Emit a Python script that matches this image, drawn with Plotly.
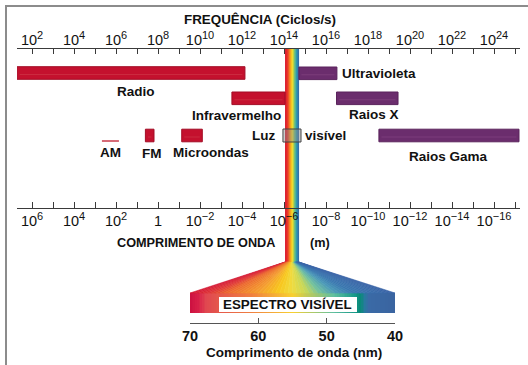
import plotly.graph_objects as go
from plotly.colors import sample_colorscale

W, H = 528, 365
FONT = "Liberation Sans, Arial, Helvetica, sans-serif"
INK = "#111111"
AXIS = "#3a3a3a"

# ---------------- data ----------------
FREQ_TICK_EXP = list(range(2, 26))            # decade ticks, log10(Hz)
FREQ_LABEL_EXP = list(range(2, 25, 2))         # labelled decades (top)
WAVE_LABEL_EXP = [6, 4, 2, 0, -2, -4, -6, -8, -10, -12, -14, -16]  # labels (bottom, m)

BAND_NAMES = ["Radio", "Infravermelho", "Ultravioleta", "Raios X", "Raios Gama", "FM", "Microondas"]
BAND_LO = [1.29, 11.52, 14.71, 16.50, 18.52, 7.40, 9.13]     # log10(Hz)
BAND_HI = [12.14, 14.05, 16.52, 19.43, 25.19, 7.81, 10.11]
AM_RANGE = [5.33, 6.14]
VISIBLE_RANGE = [14.05, 14.71]
VIS_BOX_RANGE = [13.95, 14.81]
NM_TICKS = [70, 60, 50, 40]

# ---------------- layout constants ----------------
PX_TICK0 = 32      # pixel x of the first (10^2) tick
PX_DECADE = 21     # pixels per decade
AX_PX = (17, 520)
TOP_AX_Y, BOT_AX_Y = 48, 208
TOP_LABEL_Y = 47.5
NM_PX = (190, 395)
NM_AX_Y = 323
TICK_FS = 14.5
SUP_FS = 11

RED, RED_EDGE = "#c4112e", "#a30d26"
PURPLE, PURPLE_EDGE = "#6b2d6d", "#5a235c"
BAND_COLOR = [RED, RED, PURPLE, PURPLE, PURPLE, RED, RED]
BAND_EDGE = [RED_EDGE, RED_EDGE, PURPLE_EDGE, PURPLE_EDGE, PURPLE_EDGE, RED_EDGE, RED_EDGE]
BAND_INNER = ["#d2404e", "#d2404e", "#8a4a88", "#8a4a88", "#8a4a88", "#d2404e", "#d2404e"]
BAND_ROW = [73, 98.3, 73.3, 98.3, 135.5, 135.5, 135.5]
BAR_THICK = 12.6
AM_ROW = 141

STRIP_SCALE = [[0.00, "#d8102c"], [0.18, "#e83428"], [0.30, "#f07a24"], [0.45, "#f8c01c"],
               [0.52, "#f5dc30"], [0.62, "#b4d04a"], [0.72, "#58b890"], [0.82, "#2c98b0"],
               [1.00, "#3466a8"]]
FAN_SCALE = [[0.00, "#d41838"], [0.10, "#e03a3a"], [0.18, "#ec6a30"], [0.32, "#f49a30"],
             [0.43, "#f8c820"], [0.50, "#f0dc40"], [0.57, "#c8d858"], [0.64, "#70c0a0"],
             [0.72, "#4a98b8"], [0.80, "#3a78b0"], [1.00, "#3a64a6"]]
BAR_SCALE = [[0.00, "#cc1040"], [0.04, "#d82048"], [0.08, "#e04850"], [0.30, "#f08040"],
             [0.50, "#f8d030"], [0.70, "#60c0a0"], [0.80, "#1a9a8a"], [0.83, "#0a8a7a"],
             [0.855, "#2a78a0"], [0.87, "#3a6aa6"], [1.00, "#3a64a0"]]


def lf(px):
    return 2 + (px - PX_TICK0) / PX_DECADE


def pxf(v):
    return PX_TICK0 + (v - 2) * PX_DECADE


def nm(px):
    return NM_TICKS[0] + (px - NM_PX[0]) / (NM_PX[1] - NM_PX[0]) * (NM_TICKS[-1] - NM_TICKS[0])


def sup(e):
    if e == 0:
        return "1"
    return "10<sup><span style='font-size:%spx'>%s</span></sup>" % (SUP_FS, str(e).replace("-", "\u2212"))


top_text = [sup(e) if e in FREQ_LABEL_EXP else "" for e in FREQ_TICK_EXP]
wave_map = dict(zip(FREQ_LABEL_EXP, WAVE_LABEL_EXP))
bot_text = [sup(wave_map[e]) if e in wave_map else "" for e in FREQ_TICK_EXP]

fig = go.Figure()

# vertical visible strip
NS = 40
sx = [VISIBLE_RANGE[0] + (VISIBLE_RANGE[1] - VISIBLE_RANGE[0]) * i / NS for i in range(NS + 1)]
fig.add_trace(go.Heatmap(x=sx, y=[TOP_AX_Y, 262], z=[[(i + 0.5) / NS for i in range(NS)]],
                         colorscale=STRIP_SCALE, zmin=0, zmax=1, showscale=False,
                         hoverinfo="skip", xaxis="x", yaxis="y"))

# band bars
fig.add_trace(go.Bar(orientation="h", y=BAND_ROW, base=BAND_LO,
                     x=[h - l for l, h in zip(BAND_LO, BAND_HI)],
                     width=[BAR_THICK] * len(BAND_LO),
                     marker=dict(color=BAND_COLOR, line=dict(color=BAND_EDGE, width=1)),
                     hoverinfo="skip", xaxis="x", yaxis="y"))
# faint inner highlight line of each bar
for lo, hi, row, col in zip(BAND_LO, BAND_HI, BAND_ROW, BAND_INNER):
    pad = 0.12
    fig.add_trace(go.Scatter(x=[lo + pad, hi - pad], y=[row + 1.5, row + 1.5], mode="lines",
                             line=dict(color=col, width=1), opacity=0.55, hoverinfo="skip",
                             xaxis="x", yaxis="y"))
# AM line
fig.add_trace(go.Scatter(x=AM_RANGE, y=[AM_ROW, AM_ROW], mode="lines",
                         line=dict(color="#c83a4a", width=1.5), hoverinfo="skip",
                         xaxis="x", yaxis="y"))

# fan (in nm axis coords)
NF = 48
ta, tb = nm(pxf(VISIBLE_RANGE[0])), nm(pxf(VISIBLE_RANGE[1]))
ba, bb = NM_TICKS[0], NM_TICKS[-1]
for i in range(NF):
    t0, t1 = i / NF, (i + 1) / NF
    c = sample_colorscale(FAN_SCALE, [(t0 + t1) / 2])[0]
    xs = [ta + (tb - ta) * t0, ta + (tb - ta) * t1, ba + (bb - ba) * t1, ba + (bb - ba) * t0]
    ys = [262, 262, 293, 293]
    fig.add_trace(go.Scatter(x=xs + [xs[0]], y=ys + [ys[0]], mode="lines", fill="toself",
                             fillcolor=c, line=dict(color=c, width=0.6), hoverinfo="skip",
                             xaxis="x3", yaxis="y"))

# visible spectrum bar
NB = 120
bxe = [ba + (bb - ba) * i / NB for i in range(NB + 1)]
fig.add_trace(go.Heatmap(x=bxe, y=[293, 313], z=[[(i + 0.5) / NB for i in range(NB)]],
                         colorscale=BAR_SCALE, zmin=0, zmax=1, showscale=False,
                         hoverinfo="skip", xaxis="x3", yaxis="y"))

# dummy traces so the top axes exist
fig.add_trace(go.Scatter(x=[], y=[], xaxis="x2", yaxis="y", showlegend=False))
fig.add_trace(go.Scatter(x=[], y=[], xaxis="x4", yaxis="y", showlegend=False))

shapes = [
    dict(type="rect", xref="x", yref="y", x0=VIS_BOX_RANGE[0], x1=VIS_BOX_RANGE[1], y0=129, y1=142,
         line=dict(color="#444444", width=1), fillcolor="rgba(140,140,140,0.45)"),
    dict(type="rect", xref="paper", yref="y", x0=219 / W, x1=357 / W, y0=297, y1=312,
         line=dict(width=0), fillcolor="white"),
    dict(type="line", xref="paper", yref="paper", x0=6 / W, x1=6 / W, y0=0, y1=1 - 5 / H,
         line=dict(color="#8c8c8c", width=2)),
    dict(type="line", xref="paper", yref="paper", x0=5 / W, x1=1, y0=1 - 6 / H, y1=1 - 6 / H,
         line=dict(color="#8c8c8c", width=2)),
]

LABELS = [
    ("FREQUÊNCIA (Ciclos/s)", 259.5, 19.5, 13.4),
    ("Radio", 135.5, 91, 13.5),
    ("Infravermelho", 236, 115.5, 13.5),
    ("Ultravioleta", 379, 73, 13.5),
    ("Raios X", 374, 114.5, 13.5),
    ("Luz", 263.5, 135.5, 13.5),
    ("visível", 325.5, 135.5, 13.5),
    ("Raios Gama", 448, 156.7, 13.5),
    ("AM", 110.5, 152, 13.5),
    ("FM", 151.5, 153.5, 13.5),
    ("Microondas", 210.5, 152, 13.5),
    ("COMPRIMENTO DE ONDA", 196, 243, 12.7),
    ("(m)", 319.5, 243, 12.7),
    ("ESPECTRO VISÍVEL", 287.5, 304.5, 13.4),
    ("Comprimento de onda (nm)", 294, 352, 13.5),
]
annotations = [dict(text="<b>%s</b>" % t, x=px / W, y=py, xref="paper", yref="y",
                    showarrow=False, xanchor="center", yanchor="middle",
                    font=dict(family=FONT, size=s, color=INK))
               for t, px, py, s in LABELS]

xr = [lf(AX_PX[0]), lf(AX_PX[1])]
dom = [AX_PX[0] / W, AX_PX[1] / W]
common = dict(linecolor=AXIS, linewidth=1, tickcolor=AXIS,
              tickwidth=1, showgrid=False, zeroline=False, tickmode="array",
              tickvals=FREQ_TICK_EXP, tickfont=dict(family=FONT, size=TICK_FS, color=INK),
              fixedrange=True, range=xr, automargin=False)

fig.update_layout(
    width=W, height=H, autosize=False,
    margin=dict(l=0, r=0, t=0, b=0, pad=0, autoexpand=False),
    paper_bgcolor="white", plot_bgcolor="rgba(0,0,0,0)",
    showlegend=False, barmode="overlay",
    xaxis=dict(domain=dom, anchor="free", position=1 - BOT_AX_Y / H, side="bottom",
               showline=True, ticks="inside", ticklen=6, ticktext=bot_text, **common),
    xaxis2=dict(overlaying="x", anchor="free", position=1 - TOP_AX_Y / H, side="top",
                showline=True, ticks="inside", ticklen=5, showticklabels=False,
                ticktext=top_text, **common),
    xaxis4=dict(overlaying="x", anchor="free", position=1 - TOP_LABEL_Y / H, side="top",
                showline=False, ticks="", ticktext=top_text, **common),
    xaxis3=dict(domain=[NM_PX[0] / W, NM_PX[1] / W], anchor="free", position=1 - NM_AX_Y / H,
                range=[NM_TICKS[0], NM_TICKS[-1]], showline=True, linecolor="#555555",
                linewidth=1, ticks="inside", ticklen=5, tickcolor="#555555", showgrid=False,
                zeroline=False, tickmode="array", tickvals=NM_TICKS, automargin=False,
                ticktext=["<b>%d</b>" % v for v in NM_TICKS],
                tickfont=dict(family=FONT, size=14.5, color=INK), fixedrange=True),
    yaxis=dict(domain=[0, 1], range=[H, 0], visible=False, fixedrange=True, automargin=False),
    shapes=shapes, annotations=annotations,
)

fig.write_html("out.html", config={"displayModeBar": False, "responsive": False},
               post_script="document.body.style.margin='0';document.body.style.overflow='hidden';")
